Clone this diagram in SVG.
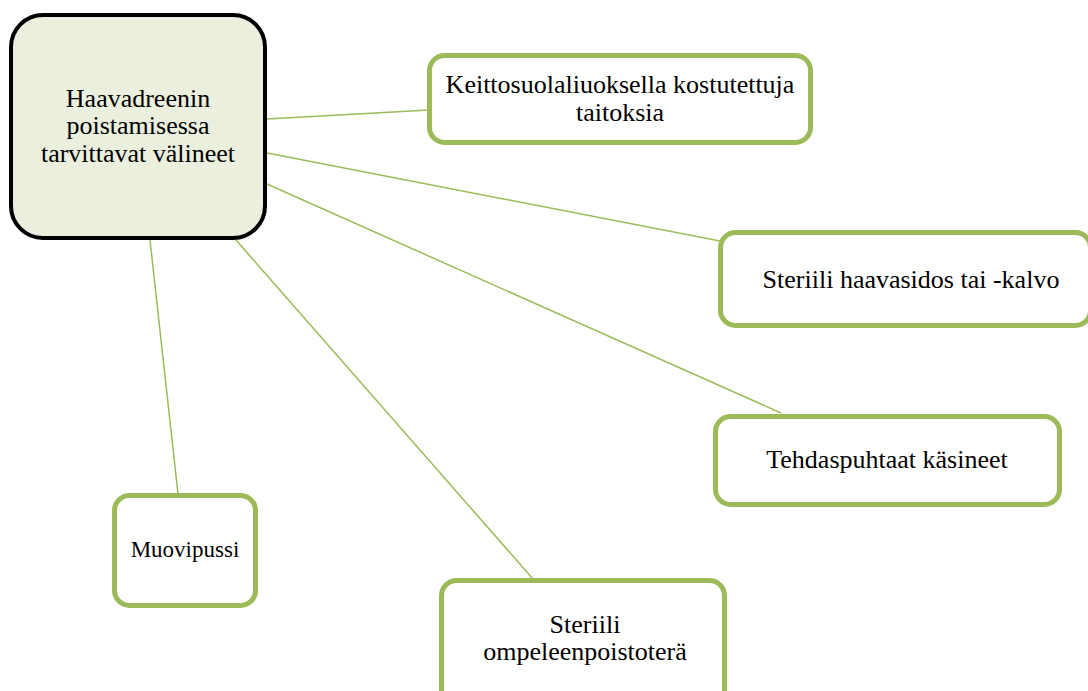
<svg xmlns="http://www.w3.org/2000/svg" width="1088" height="691" viewBox="0 0 1088 691">
<style>
.node { fill: #ffffff; stroke: #9BBB59; stroke-width: 5; }
.main { fill: #EAEFDE; stroke: #000000; stroke-width: 4; }
.conn { stroke: #9BBB59; stroke-width: 1.5; fill: none; }
text { font-family: "Liberation Serif", "Times New Roman", serif; font-size: 26px; fill: #000000; text-anchor: middle; }
</style>
<rect width="1088" height="691" fill="#ffffff"/>
<g id="connectors">
<line class="conn" x1="267" y1="119" x2="429" y2="110"/>
<line class="conn" x1="267" y1="153" x2="720" y2="241"/>
<line class="conn" x1="267" y1="184" x2="781" y2="413"/>
<line class="conn" x1="236" y1="240" x2="533" y2="579"/>
<line class="conn" x1="150" y1="240" x2="178" y2="494"/>
</g>
<g id="main">
<rect class="main" x="11" y="15" width="254" height="223" rx="32" ry="32"/>
<text x="138" y="107">Haavadreenin</text>
<text x="138" y="134">poistamisessa</text>
<text x="138" y="162">tarvittavat välineet</text>
</g>
<g id="keittosuola">
<rect class="node" x="429.5" y="55.5" width="381" height="87" rx="15" ry="15"/>
<text x="620" y="93">Keittosuolaliuoksella kostutettuja</text>
<text x="620" y="121">taitoksia</text>
</g>
<g id="haavasidos">
<rect class="node" x="720.5" y="232.5" width="370" height="93" rx="15" ry="15"/>
<text x="911" y="288">Steriili haavasidos tai -kalvo</text>
</g>
<g id="kasineet">
<rect class="node" x="715.5" y="416.5" width="344" height="88" rx="15" ry="15"/>
<text x="887" y="468">Tehdaspuhtaat käsineet</text>
</g>
<g id="muovipussi">
<rect class="node" x="114.5" y="495.5" width="141" height="110" rx="15" ry="15"/>
<text x="185" y="557" style="font-size:23px">Muovipussi</text>
</g>
<g id="ompeleenpoistotera">
<rect class="node" x="441.5" y="580.5" width="283" height="130" rx="15" ry="15"/>
<text x="585" y="633">Steriili</text>
<text x="585" y="660">ompeleenpoistoterä</text>
</g>
</svg>
